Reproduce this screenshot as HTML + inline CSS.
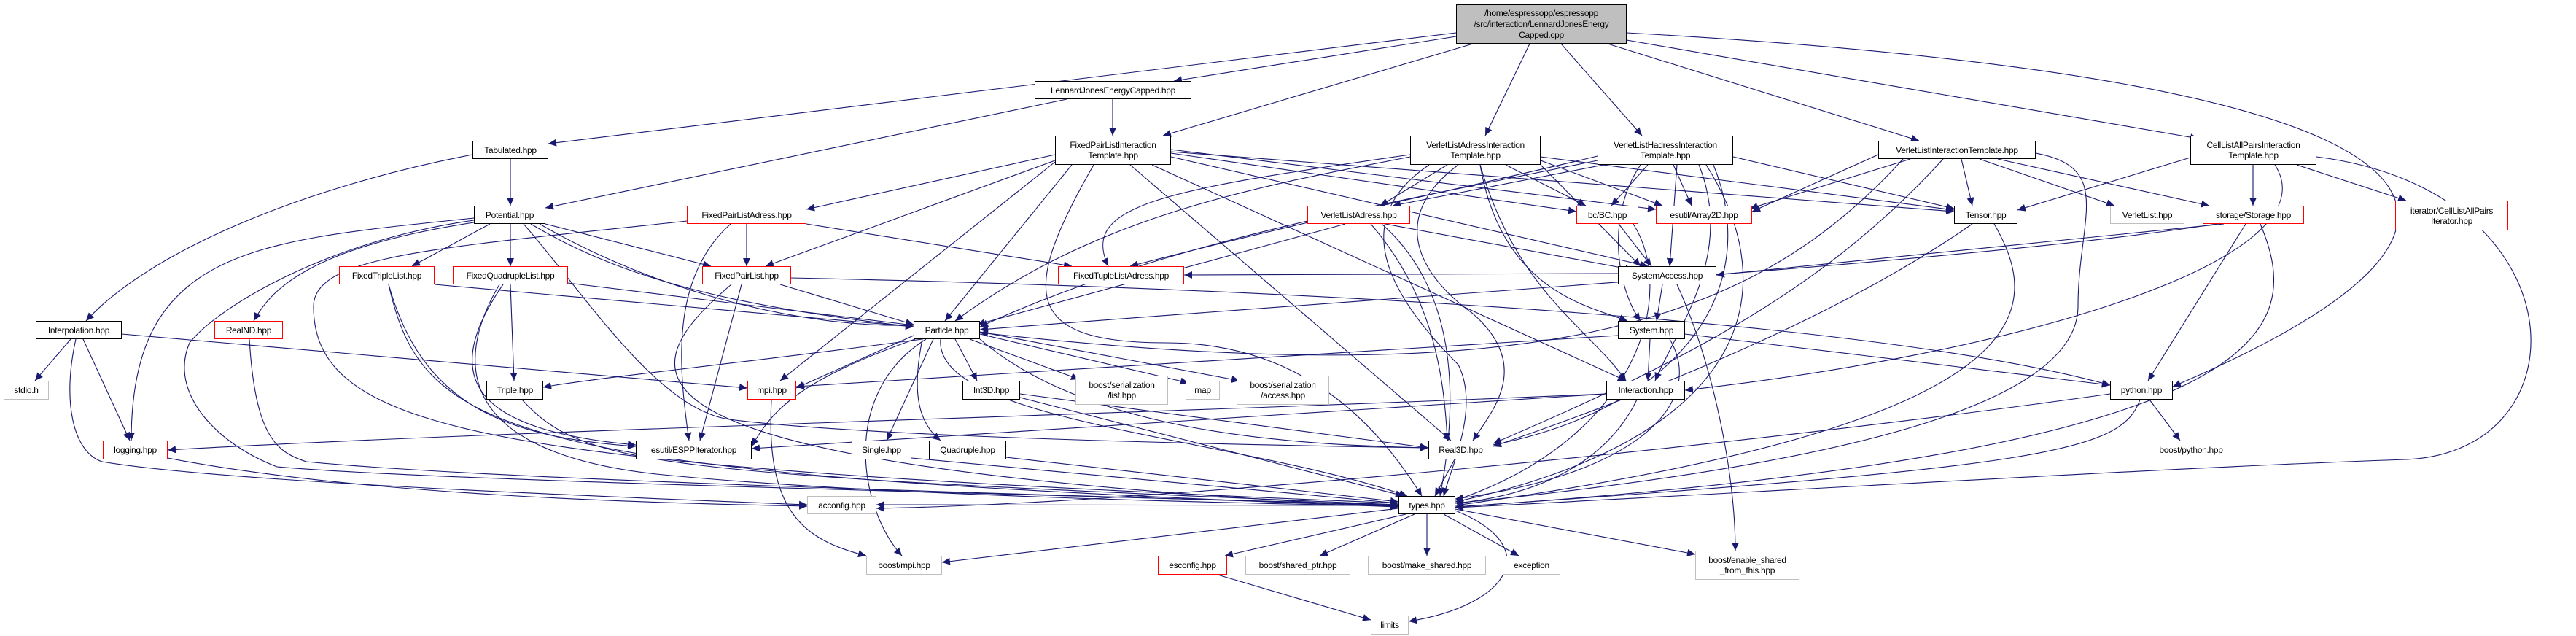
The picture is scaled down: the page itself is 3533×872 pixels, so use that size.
<!DOCTYPE html>
<html><head><meta charset="utf-8"><style>
body{margin:0;width:3533px;height:872px;background:#fff;position:relative;overflow:hidden;font-family:"Liberation Sans",sans-serif}
.n{position:absolute;box-sizing:border-box;border:1.5px solid #000;background:#fff;display:flex;align-items:center;justify-content:center;text-align:center;font-size:12px;line-height:14px;color:#000;white-space:nowrap;letter-spacing:-0.3px}
.r{border-color:#f00}
.g{border-color:#bfbfbf}
svg{position:absolute;left:0;top:0}
</style></head><body>
<svg width="3533" height="872" viewBox="0 0 3533 872">
<defs><marker id="a" markerUnits="userSpaceOnUse" markerWidth="12" markerHeight="10" refX="11" refY="5" orient="auto"><path d="M0,0 L11,5 L0,10 z" fill="#191970"/></marker></defs>
<g fill="none" stroke="#191970" stroke-width="1.1" marker-end="url(#a)">
<path d="M1997,45 L752,197"/>
<path d="M1997,50 L1610,111"/>
<path d="M2020,60 L1595,186"/>
<path d="M2098,60 L2037,186"/>
<path d="M2141,60 L2252,186"/>
<path d="M2205,60 L2632,193"/>
<path d="M2231,55 L3015,190"/>
<path d="M2231,45 C3400,110 3520,300 2980,530"/>
<path d="M1526,136 L1526,186"/>
<path d="M1463,136 L748,285"/>
<path d="M700,218 L700,282"/>
<path d="M648,212 C400,260 200,350 118,440"/>
<path d="M672,307 L565,365"/>
<path d="M700,307 L700,365"/>
<path d="M748,307 L975,365"/>
<path d="M728,307 C850,380 1000,420 1253,448"/>
<path d="M650,299 C350,330 180,340 180,604"/>
<path d="M650,305 C420,340 370,400 348,440"/>
<path d="M650,302 C450,330 300,420 260,470 C230,540 300,610 380,640 C600,660 1500,680 1918,692"/>
<path d="M718,307 C800,400 900,560 1000,575 C1200,600 1700,610 1959,614"/>
<path d="M740,307 C900,400 1100,450 1253,446"/>
<path d="M1024,307 L1024,365"/>
<path d="M1002,307 C920,380 930,500 945,604"/>
<path d="M1106,307 L1470,365"/>
<path d="M942,303 C600,340 430,350 430,420 C430,600 700,640 1918,690"/>
<path d="M1070,390 L1253,445"/>
<path d="M1017,390 L960,604"/>
<path d="M1003,390 C850,520 820,640 1918,695"/>
<path d="M1085,381 C1500,390 2500,420 2894,528"/>
<path d="M596,390 L1253,448"/>
<path d="M533,390 C580,560 700,600 872,612"/>
<path d="M533,390 C580,600 700,650 1918,695"/>
<path d="M779,388 L1253,446"/>
<path d="M700,390 L705,522"/>
<path d="M690,390 C600,520 650,590 872,610"/>
<path d="M685,390 C620,500 630,620 900,650 C1200,680 1700,690 1918,694"/>
<path d="M97,465 L48,522"/>
<path d="M114,465 L178,604"/>
<path d="M167,458 L1025,532"/>
<path d="M104,465 C85,550 100,620 140,633 C300,660 800,680 1107,692"/>
<path d="M342,465 C350,600 380,620 420,633 C700,660 1500,680 1918,693"/>
<path d="M230,628 C500,680 900,690 1107,694"/>
<path d="M716,548 C800,640 900,650 1918,692"/>
<path d="M1058,548 C1050,700 1100,740 1188,762"/>
<path d="M2203,540 C1500,570 700,590 230,617"/>
<path d="M1265,465 C1000,500 800,520 745,531"/>
<path d="M1253,460 L1092,532"/>
<path d="M1310,465 L1340,522"/>
<path d="M1330,465 L1480,520"/>
<path d="M1344,458 L1630,525"/>
<path d="M1344,455 L1700,522"/>
<path d="M1280,465 L1216,604"/>
<path d="M1265,465 C1250,540 1260,580 1290,604"/>
<path d="M1344,465 C1500,600 1800,610 1959,614"/>
<path d="M1290,465 C1280,580 1700,600 1930,680"/>
<path d="M1270,465 C1150,540 1180,700 1237,762"/>
<path d="M1255,465 C1100,520 1060,560 1031,612"/>
<path d="M1399,540 L1959,614"/>
<path d="M1399,545 L1925,680"/>
<path d="M1250,628 L1918,690"/>
<path d="M1380,627 L1918,688"/>
<path d="M1995,630 L1968,680"/>
<path d="M1918,693 L1202,692"/>
<path d="M1918,697 L1292,771"/>
<path d="M1928,705 L1680,762"/>
<path d="M1940,705 L1810,762"/>
<path d="M1957,705 L1957,762"/>
<path d="M1980,705 L2083,762"/>
<path d="M1996,698 L2325,760"/>
<path d="M1996,700 C2120,750 2070,830 1932,852"/>
<path d="M1670,788 L1880,850"/>
<path d="M1470,226 L1296,440"/>
<path d="M1447,222 L1070,522"/>
<path d="M1447,220 L1050,365"/>
<path d="M1447,212 L1106,287"/>
<path d="M1606,210 L2162,290"/>
<path d="M1606,205 L2271,287"/>
<path d="M1606,208 L2680,290"/>
<path d="M1550,226 L1990,604"/>
<path d="M1500,226 C1400,400 1400,470 1600,470 C1800,470 1900,600 1950,680"/>
<path d="M1580,226 L2230,522"/>
<path d="M1606,215 L2260,365"/>
<path d="M1985,226 L1893,282"/>
<path d="M2065,226 L2175,282"/>
<path d="M2113,220 L2280,282"/>
<path d="M2113,226 L2250,365"/>
<path d="M2030,226 C2060,400 2180,420 2232,440"/>
<path d="M2030,226 C2080,400 2180,450 2230,522"/>
<path d="M2113,215 L2680,288"/>
<path d="M1934,215 C1700,260 1500,300 1310,440"/>
<path d="M1934,212 C1600,260 1480,280 1520,365"/>
<path d="M2000,226 C1900,300 1950,380 2020,430 C2100,500 2050,560 2020,604"/>
<path d="M1960,226 C1850,300 1900,400 2000,500 C2030,560 1990,640 1980,680"/>
<path d="M1845,307 L1340,445"/>
<path d="M1900,307 L2240,370"/>
<path d="M1880,307 C1960,400 1980,500 1985,604"/>
<path d="M1895,307 C2000,400 2000,550 1975,680"/>
<path d="M2220,222 L1910,282"/>
<path d="M2260,226 L2210,282"/>
<path d="M2295,226 L2320,282"/>
<path d="M2300,226 L2290,365"/>
<path d="M2250,226 C2200,300 2220,400 2250,440"/>
<path d="M2330,226 C2380,350 2300,450 2270,522"/>
<path d="M2191,214 C2000,260 1800,300 1550,365"/>
<path d="M2191,220 C1900,280 1600,330 1344,448"/>
<path d="M2377,215 L2680,286"/>
<path d="M2350,226 C2420,400 2300,560 2048,610"/>
<path d="M2340,226 C2450,400 2400,600 1996,688"/>
<path d="M2220,307 L2265,365"/>
<path d="M2240,307 C2300,400 2250,600 1996,686"/>
<path d="M2219,375 L1624,377"/>
<path d="M2280,390 L2272,440"/>
<path d="M2300,390 C2350,500 2380,650 2380,755"/>
<path d="M2263,465 L2260,522"/>
<path d="M2219,460 L1092,530"/>
<path d="M2311,458 L2894,528"/>
<path d="M2290,465 C2340,550 2250,650 1996,684"/>
<path d="M2203,540 L1031,615"/>
<path d="M2245,548 C2200,640 2100,680 1996,690"/>
<path d="M2705,307 C2500,450 2200,560 2048,612"/>
<path d="M2735,307 C2800,420 2820,580 1996,693"/>
<path d="M2690,218 L2705,282"/>
<path d="M2620,218 L2400,286"/>
<path d="M2576,212 L2403,290"/>
<path d="M2715,218 L2900,282"/>
<path d="M2740,218 L3030,282"/>
<path d="M2665,218 C2500,400 2300,500 2048,608"/>
<path d="M2792,210 C2900,230 2850,300 2850,420 C2850,560 2500,640 1996,690"/>
<path d="M2610,218 C2400,450 2100,540 1344,456"/>
<path d="M3090,226 L3090,282"/>
<path d="M3150,226 L3300,275"/>
<path d="M3004,216 L2767,288"/>
<path d="M3120,226 C3200,350 2800,480 2311,535"/>
<path d="M3177,215 C3540,260 3550,620 3300,630 C3000,640 2500,670 1996,696"/>
<path d="M3080,307 L2946,522"/>
<path d="M3050,307 L2354,377"/>
<path d="M3040,307 C2700,360 2000,400 1344,452"/>
<path d="M3100,307 C3160,450 3140,620 1996,695"/>
<path d="M2935,548 C2910,620 2800,640 1996,695"/>
<path d="M2948,548 L2990,604"/>
<path d="M2894,540 C2400,610 1600,690 1202,697"/>
</g>
</svg>
<div class="n" style="left:1997px;top:6px;width:234px;height:54px;background:#bfbfbf;line-height:15px;white-space:normal">/home/espressopp/espressopp<br>/src/interaction/LennardJonesEnergy<br>Capped.cpp</div>
<div class="n" style="left:1419px;top:111px;width:215px;height:25px">LennardJonesEnergyCapped.hpp</div>
<div class="n" style="left:1447px;top:186px;width:159px;height:40px">FixedPairListInteraction<br>Template.hpp</div>
<div class="n" style="left:1934px;top:186px;width:179px;height:40px">VerletListAdressInteraction<br>Template.hpp</div>
<div class="n" style="left:2191px;top:186px;width:186px;height:40px">VerletListHadressInteraction<br>Template.hpp</div>
<div class="n" style="left:2576px;top:193px;width:216px;height:25px">VerletListInteractionTemplate.hpp</div>
<div class="n" style="left:3004px;top:186px;width:173px;height:40px">CellListAllPairsInteraction<br>Template.hpp</div>
<div class="n" style="left:648px;top:193px;width:104px;height:25px">Tabulated.hpp</div>
<div class="n" style="left:650px;top:282px;width:98px;height:25px">Potential.hpp</div>
<div class="n r" style="left:942px;top:282px;width:164px;height:25px">FixedPairListAdress.hpp</div>
<div class="n r" style="left:1793px;top:282px;width:141px;height:25px">VerletListAdress.hpp</div>
<div class="n r" style="left:2162px;top:282px;width:85px;height:25px">bc/BC.hpp</div>
<div class="n r" style="left:2271px;top:282px;width:132px;height:25px">esutil/Array2D.hpp</div>
<div class="n" style="left:2680px;top:282px;width:87px;height:25px">Tensor.hpp</div>
<div class="n g" style="left:2894px;top:282px;width:102px;height:25px">VerletList.hpp</div>
<div class="n r" style="left:3021px;top:282px;width:139px;height:25px">storage/Storage.hpp</div>
<div class="n r" style="left:3285px;top:275px;width:155px;height:41px">iterator/CellListAllPairs<br>Iterator.hpp</div>
<div class="n r" style="left:465px;top:365px;width:131px;height:25px">FixedTripleList.hpp</div>
<div class="n r" style="left:621px;top:365px;width:158px;height:25px">FixedQuadrupleList.hpp</div>
<div class="n r" style="left:963px;top:365px;width:122px;height:25px">FixedPairList.hpp</div>
<div class="n r" style="left:1451px;top:365px;width:173px;height:25px">FixedTupleListAdress.hpp</div>
<div class="n" style="left:2219px;top:365px;width:135px;height:25px">SystemAccess.hpp</div>
<div class="n" style="left:49px;top:440px;width:118px;height:25px">Interpolation.hpp</div>
<div class="n r" style="left:294px;top:440px;width:94px;height:25px">RealND.hpp</div>
<div class="n" style="left:1253px;top:440px;width:91px;height:25px">Particle.hpp</div>
<div class="n" style="left:2219px;top:440px;width:92px;height:25px">System.hpp</div>
<div class="n g" style="left:5px;top:522px;width:62px;height:26px">stdio.h</div>
<div class="n" style="left:667px;top:522px;width:78px;height:26px">Triple.hpp</div>
<div class="n r" style="left:1025px;top:522px;width:67px;height:26px">mpi.hpp</div>
<div class="n" style="left:1320px;top:522px;width:79px;height:26px">Int3D.hpp</div>
<div class="n g" style="left:1475px;top:515px;width:127px;height:40px">boost/serialization<br>/list.hpp</div>
<div class="n g" style="left:1626px;top:522px;width:47px;height:26px">map</div>
<div class="n g" style="left:1696px;top:515px;width:127px;height:40px">boost/serialization<br>/access.hpp</div>
<div class="n" style="left:2203px;top:522px;width:108px;height:26px">Interaction.hpp</div>
<div class="n" style="left:2894px;top:522px;width:86px;height:26px">python.hpp</div>
<div class="n r" style="left:141px;top:604px;width:89px;height:26px">logging.hpp</div>
<div class="n" style="left:872px;top:604px;width:159px;height:26px">esutil/ESPPIterator.hpp</div>
<div class="n" style="left:1168px;top:604px;width:82px;height:26px">Single.hpp</div>
<div class="n" style="left:1274px;top:604px;width:106px;height:26px">Quadruple.hpp</div>
<div class="n" style="left:1959px;top:604px;width:89px;height:26px">Real3D.hpp</div>
<div class="n g" style="left:2944px;top:604px;width:122px;height:26px">boost/python.hpp</div>
<div class="n g" style="left:1107px;top:680px;width:95px;height:25px">acconfig.hpp</div>
<div class="n" style="left:1918px;top:680px;width:78px;height:25px">types.hpp</div>
<div class="n g" style="left:1188px;top:762px;width:104px;height:26px">boost/mpi.hpp</div>
<div class="n r" style="left:1588px;top:762px;width:95px;height:26px">esconfig.hpp</div>
<div class="n g" style="left:1708px;top:762px;width:144px;height:26px">boost/shared_ptr.hpp</div>
<div class="n g" style="left:1876px;top:762px;width:162px;height:26px">boost/make_shared.hpp</div>
<div class="n g" style="left:2061px;top:762px;width:79px;height:26px">exception</div>
<div class="n g" style="left:2325px;top:755px;width:143px;height:40px">boost/enable_shared<br>_from_this.hpp</div>
<div class="n g" style="left:1880px;top:844px;width:52px;height:26px">limits</div>
</body></html>
